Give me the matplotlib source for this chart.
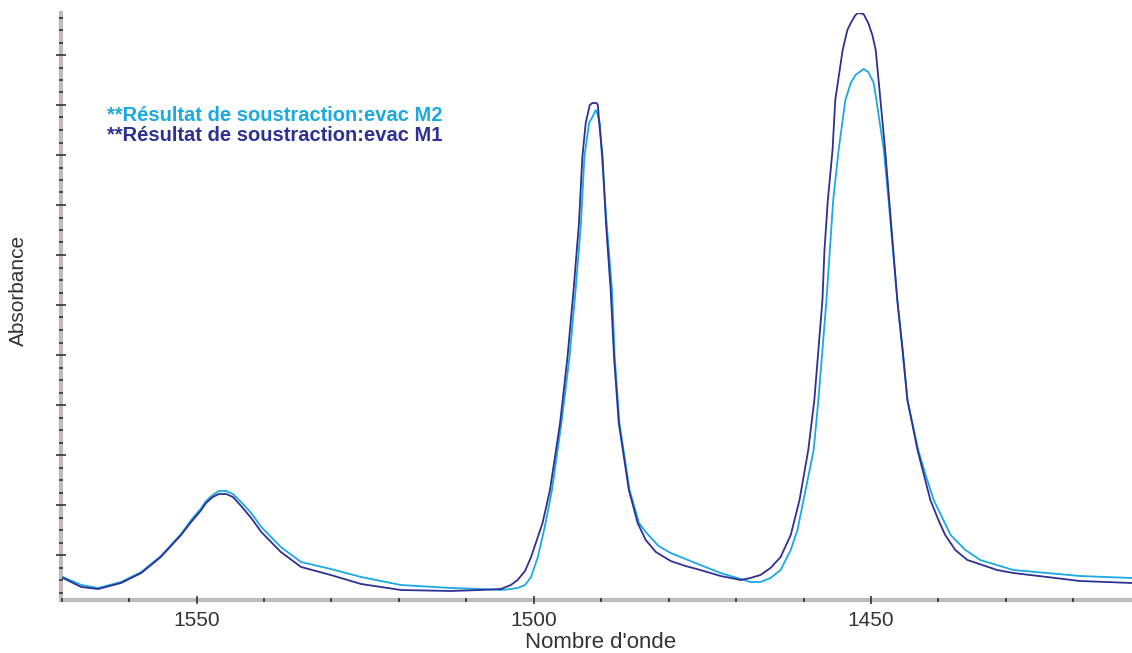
import matplotlib
matplotlib.use('Agg')
import matplotlib.pyplot as plt
from matplotlib.ticker import MultipleLocator, FixedLocator

plt.rcParams['font.family'] = ['Liberation Sans', 'DejaVu Sans']

wn_m1 = [1569.8, 1567.1, 1564.6, 1561.2, 1558.2, 1555.3, 1552.3, 1550.8, 1549.3, 1548.6,
         1547.6, 1546.7, 1545.6, 1544.6, 1543.4, 1541.9, 1540.4, 1537.5, 1534.5, 1530.1,
         1525.6, 1519.7, 1512.3, 1507.9, 1504.9, 1503.4, 1502.4, 1501.3, 1500.4, 1499.6,
         1498.7, 1497.6, 1496.1, 1495.0, 1494.1, 1493.3, 1492.8, 1492.3, 1491.7, 1491.3,
         1490.7, 1490.5, 1490.3, 1489.8, 1489.3, 1488.6, 1488.1, 1487.4, 1485.9, 1484.6,
         1483.4, 1481.9, 1479.7, 1477.5, 1475.3, 1472.3, 1469.3, 1467.9, 1466.4, 1464.9,
         1463.4, 1461.9, 1460.6, 1459.3, 1458.4, 1457.8, 1457.2, 1456.9, 1456.4, 1455.7,
         1455.3, 1454.2, 1453.5, 1453.0, 1452.3, 1451.9, 1451.1, 1450.4, 1449.8, 1449.3,
         1448.6, 1447.9, 1447.3, 1446.7, 1446.1, 1445.3, 1444.6, 1443.1, 1441.2, 1440.0,
         1439.0, 1437.5, 1435.7, 1431.3, 1428.9, 1423.9, 1419.0, 1411.3]
abs_m1 = [0.022, 0.013, 0.011, 0.017, 0.027, 0.043, 0.065, 0.078, 0.090, 0.097,
          0.103, 0.106, 0.106, 0.103, 0.094, 0.082, 0.068, 0.048, 0.033, 0.025,
          0.016, 0.010, 0.009, 0.010, 0.011, 0.015, 0.020, 0.029, 0.043, 0.059,
          0.077, 0.110, 0.177, 0.243, 0.310, 0.377, 0.443, 0.477, 0.495, 0.497,
          0.497, 0.495, 0.477, 0.443, 0.377, 0.310, 0.243, 0.177, 0.110, 0.077,
          0.060, 0.048, 0.039, 0.034, 0.030, 0.024, 0.020, 0.022, 0.025, 0.032,
          0.043, 0.065, 0.100, 0.150, 0.200, 0.250, 0.300, 0.350, 0.400, 0.450,
          0.500, 0.550, 0.570, 0.577, 0.585, 0.587, 0.586, 0.577, 0.565, 0.550,
          0.500, 0.450, 0.400, 0.350, 0.300, 0.250, 0.200, 0.150, 0.100, 0.080,
          0.065, 0.050, 0.040, 0.030, 0.027, 0.023, 0.019, 0.017]

wn_m2 = [1569.8, 1567.1, 1564.6, 1561.2, 1558.2, 1555.3, 1552.3, 1550.8, 1549.3, 1548.6,
         1547.6, 1546.7, 1545.6, 1544.6, 1543.4, 1541.9, 1540.4, 1537.5, 1534.5, 1530.1,
         1525.6, 1519.7, 1512.3, 1507.9, 1504.9, 1503.4, 1502.4, 1501.3, 1500.4, 1499.4,
         1498.4, 1497.3, 1495.9, 1494.7, 1493.8, 1493.0, 1492.5, 1491.8, 1491.3, 1490.8,
         1490.6, 1490.2, 1489.9, 1489.2, 1488.4, 1488.0, 1487.3, 1485.8, 1484.4, 1483.4,
         1481.5, 1479.7, 1477.5, 1475.3, 1472.3, 1469.3, 1467.9, 1466.4, 1464.9, 1463.4,
         1461.9, 1460.9, 1460.0, 1458.5, 1457.8, 1457.2, 1456.6, 1456.1, 1455.6, 1454.8,
         1453.8, 1453.0, 1452.3, 1451.1, 1450.4, 1449.6, 1449.2, 1448.1, 1447.4, 1446.1,
         1444.6, 1443.0, 1441.9, 1440.7, 1438.2, 1436.0, 1433.8, 1428.9, 1423.9, 1419.0,
         1411.3]
abs_m2 = [0.023, 0.015, 0.012, 0.018, 0.028, 0.044, 0.066, 0.080, 0.092, 0.099,
          0.105, 0.109, 0.109, 0.106, 0.098, 0.087, 0.073, 0.053, 0.038, 0.031,
          0.023, 0.015, 0.012, 0.011, 0.010, 0.011, 0.012, 0.015, 0.023, 0.043,
          0.072, 0.110, 0.177, 0.243, 0.310, 0.377, 0.443, 0.477, 0.483, 0.490,
          0.487, 0.477, 0.443, 0.377, 0.310, 0.243, 0.177, 0.110, 0.077, 0.068,
          0.054, 0.047, 0.041, 0.035, 0.027, 0.021, 0.018, 0.018, 0.022, 0.030,
          0.050, 0.070, 0.100, 0.150, 0.200, 0.250, 0.300, 0.350, 0.400, 0.450,
          0.500, 0.517, 0.525, 0.531, 0.528, 0.517, 0.500, 0.450, 0.400, 0.300,
          0.200, 0.150, 0.125, 0.100, 0.065, 0.050, 0.040, 0.030, 0.027, 0.024,
          0.022]

labels = ['**Résultat de soustraction:evac M2', '**Résultat de soustraction:evac M1']
x_ticks = [1550, 1500, 1450]

c_m2 = '#1aa9e1'
c_m1 = '#2e3192'
spine_c = '#c2bab8'
txt_c = '#333333'

fig = plt.figure(figsize=(11.32, 6.53), dpi=100)
ax = fig.add_axes([61 / 1132, 53 / 653, 1071 / 1132, 587 / 653])

ax.plot(wn_m2, abs_m2, color=c_m2, lw=1.3)
ax.plot(wn_m1, abs_m1, color=c_m1, lw=1.3)

ax.set_xlim(1570.1, 1411.3)
ax.set_ylim(0, 0.587)

for s in ['top', 'right']:
    ax.spines[s].set_visible(False)
for s in ['left', 'bottom']:
    ax.spines[s].set_color(spine_c)
    ax.spines[s].set_linewidth(3)
    ax.spines[s].set_zorder(0.2)  # graduations par-dessus l'axe gris

ax.xaxis.set_major_locator(FixedLocator(x_ticks))
ax.xaxis.set_minor_locator(MultipleLocator(10))
ax.yaxis.set_major_locator(MultipleLocator(0.05, offset=0.045))
ax.yaxis.set_minor_locator(MultipleLocator(0.0125, offset=0.045))
ax.tick_params(axis='x', which='major', direction='inout', length=6, width=1.2,
               color='#333333', labelsize=15, labelcolor=txt_c, pad=5)
ax.tick_params(axis='x', which='minor', direction='inout', length=2.5, width=1.2,
               color='#333333')
ax.tick_params(axis='y', which='major', direction='inout', length=7, width=1.2,
               color='#333333', labelleft=False)
ax.tick_params(axis='y', which='minor', direction='inout', length=3, width=1.2,
               color='#333333')

ax.text(0.043, 0.826, labels[0], transform=ax.transAxes, color=c_m2,
        fontsize=14.5, fontweight='bold', va='center', ha='left')
ax.text(0.043, 0.792, labels[1], transform=ax.transAxes, color=c_m1,
        fontsize=14.5, fontweight='bold', va='center', ha='left')

fig.text(601 / 1132, 10 / 653, "Nombre d'onde", ha='center', va='center',
         fontsize=16, color=txt_c)
fig.text(18 / 1132, 363 / 653, 'Absorbance', ha='center', va='center',
         rotation=90, fontsize=15, color=txt_c)

fig.savefig('out.png', dpi=100)
